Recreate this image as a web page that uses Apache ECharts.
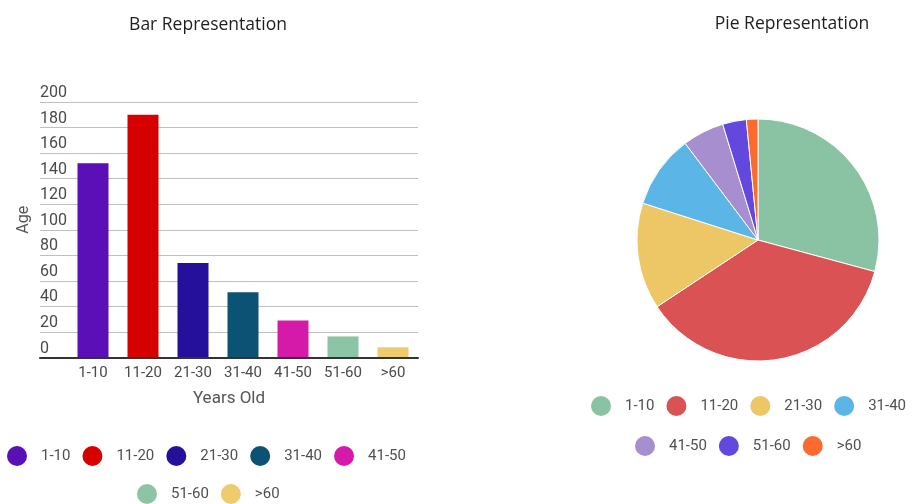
<!DOCTYPE html>
<html>
<head>
<meta charset="utf-8">
<script src="https://cdn.jsdelivr.net/npm/echarts@6/dist/echarts.min.js"></script>
<style>
html,body{margin:0;padding:0;background:#fff;}
#chart{width:914px;height:504px;}
</style>
</head>
<body>
<div id="chart"></div>
<script>
var categories = ['1-10', '11-20', '21-30', '31-40', '41-50', '51-60', '>60'];
var values = [152, 190, 74, 51, 29, 16.5, 8];
var yTicks = [0, 20, 40, 60, 80, 100, 120, 140, 160, 180, 200];
var barColors = ['#5b0fb7', '#d60000', '#24109b', '#0b5274', '#d51aa9', '#8cc5a5', '#eecb6c'];
var pieColors = ['#8ac3a3', '#da5253', '#edc766', '#5bb5e6', '#a78fcf', '#6348df', '#fb6a2f'];

var FONT = 'Roboto';
var chart = echarts.init(document.getElementById('chart'), null, {renderer: 'canvas'});

var barSeries = categories.map(function (c, i) {
  return {
    name: c,
    type: 'bar',
    xAxisIndex: 1,
    yAxisIndex: 1,
    stack: 'age',
    barWidth: 31,
    itemStyle: {color: barColors[i]},
    data: categories.map(function (cc, j) { return j === i ? values[i] : '-'; })
  };
});

var legendText = {fontFamily: FONT, fontSize: 15, color: '#505050', padding: [0, 0, 0, 9]};
function legendCfg(names, left, top, colors) {
  return {
    left: left, top: top, orient: 'horizontal',
    icon: 'circle', itemWidth: 20, itemHeight: 20, itemGap: 12,
    textStyle: legendText,
    selectedMode: false,
    data: names.map(function (n) {
      var idx = categories.indexOf(n);
      return colors ? {name: n, itemStyle: {color: colors[idx]}} : {name: n};
    })
  };
}

var titleStyle = {fontFamily: 'Open Sans', fontSize: 17.5, fontWeight: 'normal', color: '#1e1e1e'};
var option = {
  backgroundColor: '#fff',
  animation: false,
  title: [
    {text: 'Bar Representation', left: 203, top: 11, textAlign: 'center', textStyle: titleStyle},
    {text: 'Pie Representation', left: 787, top: 10, textAlign: 'center', textStyle: titleStyle}
  ],
  legend: [
    legendCfg(categories.slice(0, 5), 2, 441, null),
    legendCfg(categories.slice(5), 132, 479, null),
    legendCfg(categories.slice(0, 4), 586, 391, pieColors),
    legendCfg(categories.slice(4), 630, 431, pieColors)
  ],
  grid: [
    {left: 40, right: 496, top: 102, bottom: 146.5},
    {left: 68, right: 496, top: 102, bottom: 146.5}
  ],
  xAxis: [
    {
      gridIndex: 0, type: 'category', data: categories, z: 10,
      axisLine: {show: true, lineStyle: {color: '#333', width: 2}},
      axisTick: {show: false}, axisLabel: {show: false}, splitLine: {show: false},
      name: 'Years Old', nameLocation: 'middle', nameGap: 33,
      nameTextStyle: {fontFamily: FONT, fontSize: 17, color: '#555'}
    },
    {
      gridIndex: 1, type: 'category', data: categories,
      axisLine: {show: false}, axisTick: {show: false},
      axisLabel: {fontFamily: FONT, fontSize: 15, color: '#4a4a4a', margin: 8, interval: 0}
    }
  ],
  yAxis: [
    {
      gridIndex: 0, type: 'value', min: yTicks[0], max: yTicks[yTicks.length - 1], interval: yTicks[1] - yTicks[0],
      axisLine: {show: false}, axisTick: {show: false},
      splitLine: {show: true, lineStyle: {color: '#bfbfbf', width: 1}},
      axisLabel: {inside: true, margin: 0, verticalAlign: 'bottom', padding: [0, 0, 1, 0],
                  fontFamily: FONT, fontSize: 16, color: '#4a4a4a', showMinLabel: true, showMaxLabel: true},
      name: 'Age', nameLocation: 'middle', nameRotate: 90, nameGap: 8,
      nameTextStyle: {fontFamily: FONT, fontSize: 16, color: '#555', padding: [0, 0, 0, 20]}
    },
    {
      gridIndex: 1, type: 'value', min: yTicks[0], max: yTicks[yTicks.length - 1], interval: yTicks[1] - yTicks[0],
      show: false, splitLine: {show: false}
    }
  ],
  series: barSeries.concat([{
    name: 'Pie',
    type: 'pie',
    center: [758, 240],
    radius: 121,
    startAngle: 90,
    clockwise: true,
    label: {show: false},
    labelLine: {show: false},
    itemStyle: {borderColor: '#fff', borderWidth: 1},
    data: categories.map(function (c, i) {
      return {name: c, value: values[i], itemStyle: {color: pieColors[i]}};
    })
  }])
};
chart.setOption(option);
</script>
</body>
</html>
